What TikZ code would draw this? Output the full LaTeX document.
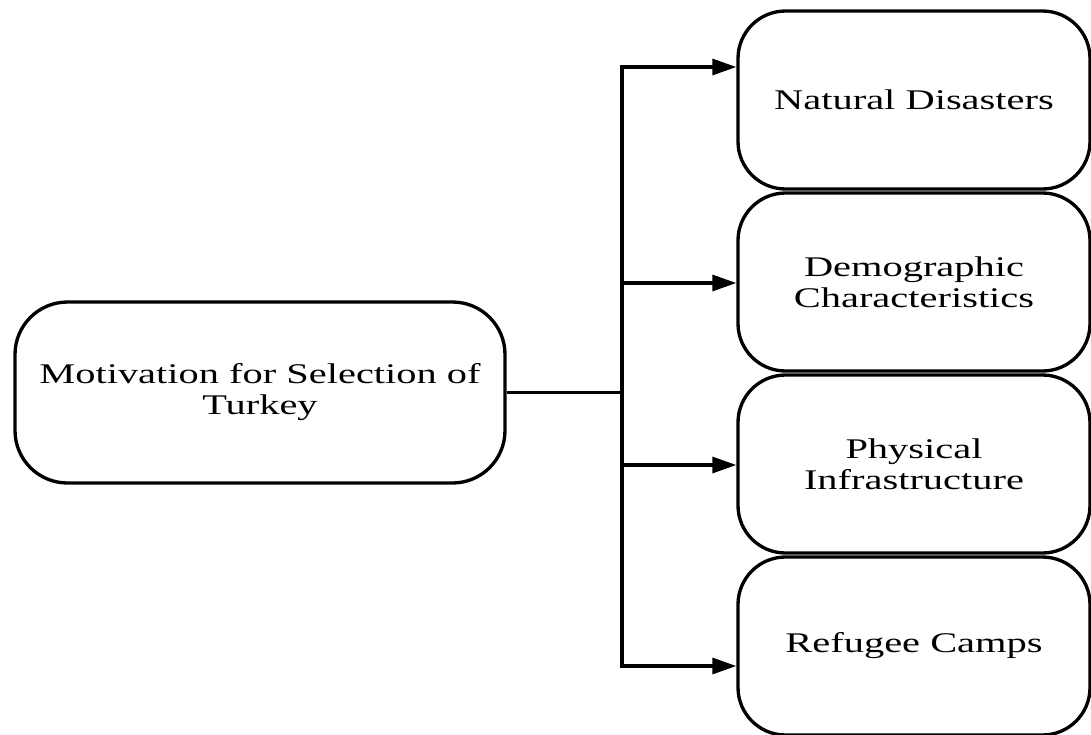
\documentclass[tikz,border=0pt]{standalone}
\usepackage{fontspec}
\setmainfont[FakeStretch=1.42]{Liberation Serif}
\usetikzlibrary{arrows.meta}

\tikzset{
  topicbox/.style={draw, line width=1.9pt, rounded corners=0.95cm,
    minimum width=7.04cm, minimum height=3.56cm, align=center, inner sep=0pt,
    font=\fontsize{16.2}{17.6}\selectfont},
  mainbox/.style={topicbox, minimum width=9.8cm, minimum height=3.62cm,
    rounded corners=1.05cm},
  link/.style={line width=1.8pt},
  tip/.tip={Triangle[length=0.48cm,width=0.32cm]}
}

\begin{document}
\begin{tikzpicture}

    % canvas (keeps the reference margins)
    \useasboundingbox (0,0) rectangle (21.82,-14.68);

    %==========================
    % Source box
    %==========================
    \node[mainbox] (motiv) at (5.2,-7.85) {Motivation for Selection of\\Turkey};

    %==========================
    % Target boxes (right column)
    %==========================
    \def\xR{18.28}
    \node[topicbox] (natural)  at (\xR,-2.00)  {Natural Disasters};
    \node[topicbox] (demog)    at (\xR,-5.64)  {Demographic\\Characteristics};
    \node[topicbox] (physical) at (\xR,-9.28)  {Physical\\Infrastructure};
    \node[topicbox] (refugee)  at (\xR,-12.92) {Refugee Camps};

    %==========================
    % Connectors
    %==========================
    \def\xT{12.44} % trunk
    \coordinate (tA) at (\xT,-1.34);
    \coordinate (tB) at (\xT,-5.66);
    \coordinate (tC) at (\xT,-9.30);
    \coordinate (tD) at (\xT,-13.32);

    % trunk with the two outer arrows
    \draw[link,tip-tip] (tA -| natural.west) -- (tA) -- (tD) -- (tD -| refugee.west);
    % inner arrows
    \draw[link,-tip] (tB) -- (tB -| demog.west);
    \draw[link,-tip] (tC) -- (tC -| physical.west);
    % feed from the source box
    \draw[link] (motiv.east) -- (motiv.east -| tA);

\end{tikzpicture}
\end{document}
